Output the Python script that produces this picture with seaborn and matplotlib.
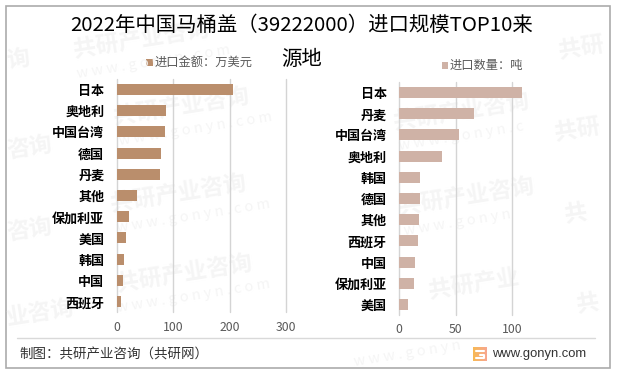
import matplotlib
matplotlib.use("Agg")
import matplotlib.pyplot as plt
from matplotlib.patches import Rectangle
import numpy as np
import pandas as pd
import seaborn as sns

sns.set_theme(style="white")
plt.rcParams['font.family'] = ['Noto Sans CJK SC', 'DejaVu Sans']

amount_names = ["日本", "奥地利", "中国台湾", "德国", "丹麦", "其他", "保加利亚", "美国", "韩国", "中国", "西班牙"]
amount_values = [206, 87, 85.5, 78.5, 76.7, 36, 21.8, 16.5, 13, 11, 7.7]
weight_names = ["日本", "丹麦", "中国台湾", "奥地利", "韩国", "德国", "其他", "西班牙", "中国", "保加利亚", "美国"]
weight_values = [108.5, 66, 52.8, 37.8, 18.3, 18.3, 17.4, 16.5, 13.9, 13, 8]
amount_ticks = [0, 100, 200, 300]
weight_ticks = [0, 50, 100]
amount_label = "进口金额：万美元"
weight_label = "进口数量：吨"

W, H = 620, 374


def px_axes(fig, left, top, right, bottom):
    return fig.add_axes([left / W, 1 - bottom / H, (right - left) / W, (bottom - top) / H])


def draw_bars(ax, names, values, ticks, xmax, color):
    df = pd.DataFrame({"name": names, "value": values})
    sns.barplot(data=df, x="value", y="name", color=color, width=0.52, saturation=1, ax=ax, zorder=3,
                linewidth=0)
    ax.set_xlim(0, xmax)
    ax.set_xticks(ticks)
    ax.set_xlabel("")
    ax.set_ylabel("")
    ax.patch.set_alpha(0)
    sns.despine(ax=ax, top=True, right=True, bottom=True, left=True)
    for t in ticks:
        ax.axvline(t, color="#D4D4D4", linewidth=1, zorder=1, clip_on=False)
    ax.tick_params(axis="x", length=0, labelsize=8.8, labelcolor="#595959", pad=6)
    ax.tick_params(axis="y", length=0, labelsize=9.4, labelcolor="#000000", pad=9)
    for lab in ax.get_yticklabels():
        lab.set_fontweight("bold")


fig = plt.figure(figsize=(6.2, 3.74), dpi=100)

# page level overlay in pixel coordinates
page = fig.add_axes([0, 0, 1, 1], zorder=0)
page.set_xlim(0, W)
page.set_ylim(H, 0)
page.axis("off")

# watermark, whole ones in the middle and the ends that show at the frame
marks = [(75, 58, "共研产业咨询"), (115, 125, "共研产业咨询"), (112, 212, "共研产业咨询"), (118, 292, "共研产业咨询"),
         (8, 68, "询"), (8, 158, "咨询"), (8, 240, "咨询"), (8, 325, "业咨询"),
         (395, 130, "共研产业咨询"), (400, 215, "共研产业咨询"), (430, 298, "共研产业"),
         (560, 58, "共研"), (556, 140, "共研"), (566, 222, "共"), (578, 312, "共")]
for mx, my, word in marks:
    page.text(mx, my, word, fontsize=16.5, fontweight="bold", color="#F5F5F5", rotation=9,
              rotation_mode="anchor", ha="left", va="baseline")
sites = [(78, 78, "w w w . g o n y n . c o m"), (120, 145, "w w w . g o n y n . c o m"),
         (118, 232, "w w w . g o n y n . c o m"), (118, 312, "w w w . g o n y n . c o m"),
         (400, 150, "w w w . g o n y n . c"), (405, 235, "w w w . g o n y n"), (355, 366, "w w w . g o n y n")]
for mx, my, word in sites:
    page.text(mx, my, word, fontsize=10.5, color="#F5F5F5", rotation=9,
              rotation_mode="anchor", ha="left", va="baseline")

page.add_patch(Rectangle((5.5, 5.5), 604.5, 362.5, fill=False, edgecolor="#ABABAB", linewidth=1.2))
page.plot([17, 595], [338, 338], color="#D9D9D9", linewidth=1)

ax1 = px_axes(fig, 116.7, 78.7, 286.3, 312.3)
ax1.set_zorder(1)
draw_bars(ax1, amount_names, amount_values, amount_ticks, 300, "#BA8E6C")

ax2 = px_axes(fig, 399.3, 82, 534, 315)
ax2.set_zorder(1)
draw_bars(ax2, weight_names, weight_values, weight_ticks, 119.2, "#CFB2A6")

page.text(302, 25, "2022年中国马桶盖（39222000）进口规模TOP10来", fontsize=14.7, color="#000000", ha="center", va="center")
page.text(302, 59, "源地", fontsize=14.7, color="#000000", ha="center", va="center")

page.add_patch(Rectangle((146, 59), 6.5, 6.5, color="#BA8E6C", linewidth=0))
page.text(155, 62, amount_label, fontsize=8.8, color="#595959", ha="left", va="center")
page.add_patch(Rectangle((441.7, 62), 6.5, 6.5, color="#CFB2A6", linewidth=0))
page.text(450, 65, weight_label, fontsize=8.8, color="#595959", ha="left", va="center")

page.text(19, 355, "制图：共研产业咨询（共研网）", fontsize=9.7, color="#333333", ha="left", va="center")
page.text(492, 354, "www.gonyn.com", fontsize=9.4, color="#333333", ha="left", va="center", family="Liberation Sans")

# small logo, gradient square with a white G
grad = np.linspace(0, 1, 20).reshape(1, -1)
logo_cmap = matplotlib.colors.LinearSegmentedColormap.from_list("logo", ["#F7B955", "#F8A78F"])
page.imshow(grad, extent=(473, 487, 361, 347), cmap=logo_cmap, aspect="auto", zorder=2)
page.set_xlim(0, W)
page.set_ylim(H, 0)
page.plot([476, 484], [351, 351], color="white", linewidth=1.5, zorder=3)
page.plot([480, 484, 484, 476], [355, 355, 358, 358], color="white", linewidth=1.5, zorder=3)

fig.savefig("out.png", dpi=100)
